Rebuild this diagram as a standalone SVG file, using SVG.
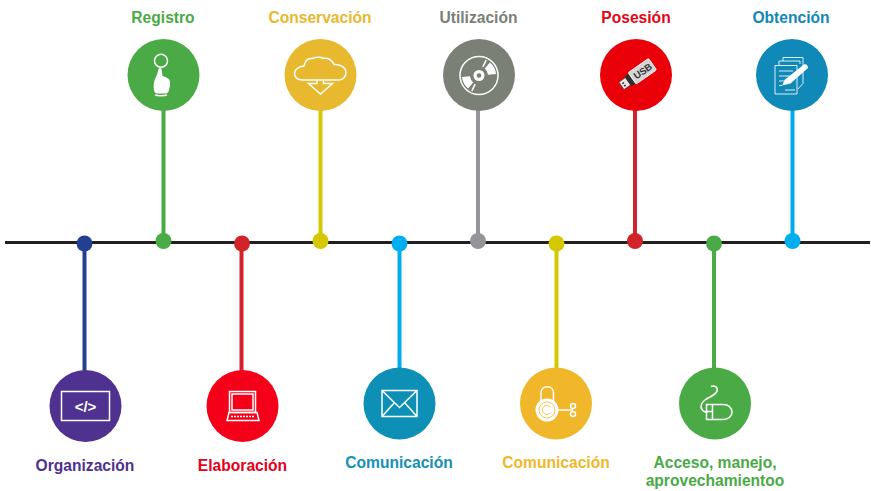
<svg xmlns="http://www.w3.org/2000/svg" width="871" height="491" viewBox="0 0 871 491">
<style>
text{font-family:"Liberation Sans",Arial,sans-serif;font-weight:700;font-size:15.6px;text-anchor:middle}
.i{fill:none;stroke:#fff;stroke-width:1.5}
.t{stroke-width:1}
.f{fill:#fff;stroke:none}
.c{fill:none;stroke-width:4}
</style>
<rect width="871" height="491" fill="#fff"/>
<g id="connectors">
<path d="M5 242.500H870" stroke="#231f20" stroke-width="3" fill="none"/>
<path class="c" stroke="#233f8f" d="M84.500 243V372"/>
<path class="c" stroke="#4aaa46" d="M163.500 241V110"/>
<path class="c" stroke="#d2232a" d="M241.500 243V372"/>
<path class="c" stroke="#d6c800" d="M320.500 241V110"/>
<path class="c" stroke="#00aeef" d="M399.500 243V369"/>
<path class="c" stroke="#939598" d="M478 241V110"/>
<path class="c" stroke="#d6c800" d="M556.500 243V369"/>
<path class="c" stroke="#cf2432" d="M635 241V110"/>
<path class="c" stroke="#4aaa46" d="M714 243V369"/>
<path class="c" stroke="#00aeef" d="M792.500 241V110"/>
<circle cx="84.500" cy="243.500" r="8" fill="#233f8f"/>
<circle cx="163.500" cy="241" r="8" fill="#4aaa46"/>
<circle cx="242" cy="243.500" r="8" fill="#d2232a"/>
<circle cx="320.500" cy="241" r="8" fill="#d6c800"/>
<circle cx="399.500" cy="243.500" r="8" fill="#00aeef"/>
<circle cx="478" cy="241" r="8" fill="#939598"/>
<circle cx="556.500" cy="243.500" r="8" fill="#d6c800"/>
<circle cx="635" cy="241" r="8" fill="#d2232a"/>
<circle cx="714" cy="243.500" r="8" fill="#4aaa46"/>
<circle cx="792.500" cy="241" r="8" fill="#00aeef"/>
</g>
<g id="registro">
<text x="163" y="23" fill="#4aaa46">Registro</text>
<circle cx="163.500" cy="75" r="36" fill="#4aaa46"/>
<circle class="i" cx="161" cy="60.800" r="6.500" stroke-width="1.800"/>
<path class="f" d="M158.500 69c.5-1.500 2.500-1.500 3 0l1 7c3 1 6 2 7 4 1 3 .5 7-.5 10-.5 2-1.500 3.500-3 3.500h-9c-1.500 0-2.500-1-3-3-.5-3-.5-7 .5-10 1-3 3-6 4-11.500z"/>
<path class="i" stroke-width=".7" d="M155 94.800c2 1.200 10 1.200 12 0"/>
</g>
<g id="conservacion">
<text x="320" y="23" fill="#e8b82e">Conservación</text>
<circle cx="320.500" cy="75" r="36" fill="#e8b82e"/>
<path class="i" d="M303 80c-9 0-11-8-5-12 1.500-1 4-2 6-2 1-5 4-8 8-7.500 4-1.500 9-1.500 12 0 3-1 8 1 10 6 6-.5 12 3 12 8 0 4-3 7.500-7 7.500z"/>
<path class="i" d="M317 80.500v3h-8.500l12 10.500 12-10.500h-9v-3"/>
</g>
<g id="utilizacion">
<text x="478.500" y="23" fill="#7a8076">Utilización</text>
<circle cx="479" cy="75" r="36" fill="#7a8076"/>
<circle class="i" cx="479" cy="75.500" r="19" stroke-width="1"/>
<circle class="f" cx="479" cy="75.500" r="5.500"/>
<circle cx="479" cy="75.500" r="2.300" fill="#7a8076"/>
<path class="f" d="M484.800 68.600L489.900 62.500A17 17 0 0 1 496 74L488 74.700A9 9 0 0 0 484.800 68.600zM473.200 82.400L468.100 88.500A17 17 0 0 1 462 77L470 76.300A9 9 0 0 0 473.200 82.400z"/>
<path class="i" stroke-width="1.300" d="M482.800 66.900L486.200 60.100M475.200 84.100L471.800 90.900"/>
</g>
<g id="posesion">
<text x="636" y="23" fill="#e30613">Posesión</text>
<circle cx="636" cy="75" r="36" fill="#e90009"/>
<g transform="rotate(-35 637 75)">
<rect x="618" y="70.500" width="8" height="9" fill="#e8e8e8" stroke="#333" stroke-width=".6"/>
<rect x="620" y="73" width="2" height="1.500" fill="#333"/><rect x="620" y="76" width="2" height="1.500" fill="#333"/>
<rect x="626" y="69" width="7" height="12" fill="#2e2e2e"/>
<rect x="631" y="68" width="25" height="14" rx="1.500" fill="#d5d5d5" stroke="#fff" stroke-width=".8"/>
<text x="644" y="78.500" style="font-size:9.500px;fill:#333">USB</text>
</g>
</g>
<g id="obtencion">
<text x="791" y="23" fill="#1287b5">Obtención</text>
<circle cx="792" cy="75" r="36" fill="#1089b8"/>
<path class="i t" stroke-opacity=".85" d="M775 65.500h22v28.500h-22z"/>
<path class="i t" stroke-opacity=".85" d="M779 65v-4h21v3M783 61v-3.500h20v26l-5 5.500"/>
<path class="i t" stroke-opacity=".85" d="M779 71h14M779 76h12M779 81h8M779 85.500h3M785 90h10"/>
<path class="f" d="M782 85.500l3-6 19-15c2-1 4.500 1.500 4 3.500l-17.500 15.500z"/>
</g>
<g id="organizacion">
<circle cx="85.500" cy="406" r="36" fill="#4f318f"/>
<rect class="i" x="61.500" y="391.500" width="48" height="29" stroke-width="1.200"/>
<text x="85.500" y="411.500" style="font-size:15px;fill:#fff">&lt;/&gt;</text>
<text x="85" y="471" fill="#4f318f">Organización</text>
</g>
<g id="elaboracion">
<circle cx="242.500" cy="406" r="36" fill="#f50019"/>
<path class="i" stroke-width="1" d="M229.500 391.500h26v21h-26zM232 394h21v16h-21z"/>
<path class="i" stroke-width="1.200" d="M229 412.500h28l2 8h-32z"/>
<path class="i" stroke-width="1.200" stroke-dasharray="2 1" d="M231 416.500h24"/>
<text x="242.500" y="471" fill="#e3001b">Elaboración</text>
</g>
<g id="comunicacion-1">
<circle cx="399.500" cy="403.500" r="36" fill="#0e90b6"/>
<path class="i" stroke-width="1" d="M382 390.500h35v26h-35zM382 390.500l17.500 17 17.500-17M382 416.500l12.500-14M417 416.500l-12.500-14"/>
<text x="399" y="468" fill="#1590b8">Comunicación</text>
</g>
<g id="comunicacion-2">
<circle cx="556" cy="403.500" r="36" fill="#f0b72b"/>
<path class="i" stroke-width="2.500" d="M541 402v-9c0-8.500 12.500-8.500 12.500 0v9"/>
<circle class="f" cx="547" cy="410" r="11.500"/>
<circle cx="547" cy="410" r="8" fill="none" stroke="#f0b72b" stroke-width=".8"/>
<path d="M550.500 407.500a4.500 4.500 0 1 0 0 5" fill="none" stroke="#f0b72b" stroke-width=".8"/>
<path class="i" stroke-width="2" d="M558 410h15"/>
<circle class="i" cx="573" cy="406" r="2.500" stroke-width="1.800"/>
<circle class="i" cx="573" cy="414" r="2.500" stroke-width="1.800"/>
<text x="556" y="468" fill="#f0b72b">Comunicación</text>
</g>
<g id="acceso">
<circle cx="715" cy="403.500" r="36" fill="#4aaa46"/>
<path class="i" stroke-width="1.300" d="M711 386.500c4-1.500 7 1 6 4.500-1 4-8 6-12 9-4 3-5 7-3 9.500 1 1.500 3 2.500 5 2.500"/>
<path class="i" stroke-width="1" d="M706.500 404.500h17c5 0 8.500 3.500 8.500 7.500s-3.500 7.500-8.500 7.500h-17zM712.500 404.500v15M706.500 411.500h6"/>
<text x="715" y="467.500" fill="#4aaa46">Acceso, manejo,</text>
<text x="715" y="486" fill="#4aaa46">aprovechamientoo</text>
</g>
</svg>
